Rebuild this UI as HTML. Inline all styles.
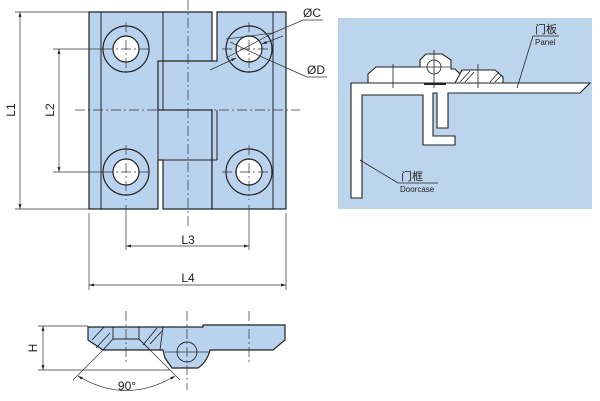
<!DOCTYPE html>
<html><head><meta charset="utf-8"><style>
html,body{margin:0;padding:0;background:#fff;}
svg{display:block;font-family:"Liberation Sans","Noto Sans CJK SC",sans-serif;}
</style></head><body>
<svg width="600" height="401" viewBox="0 0 600 401" xmlns="http://www.w3.org/2000/svg">
<defs>
<marker id="a" viewBox="0 0 10 10" refX="10" refY="5" markerWidth="7" markerHeight="7" orient="auto-start-reverse"><path d="M0,2 L10,5 L0,8 z" fill="#222"/></marker>
</defs>
<!-- Top view -->
<g stroke="#222" stroke-width="1.2" fill="#b9d3ee">
<path d="M89,12 H212 V209 H163 V160 H158 V209 H89 Z"/>
<path d="M217,12 H286 V209 H212 V110 H158 V61 H217 Z"/>
</g>
<g stroke="#222" stroke-width="1" fill="none">
<line x1="101" y1="12" x2="101" y2="209"/>
<line x1="273" y1="12" x2="273" y2="209"/>
<line x1="163" y1="12" x2="163" y2="110"/>
<line x1="158" y1="110" x2="158" y2="160"/>
<line x1="158" y1="160" x2="163" y2="160"/>
<line x1="217" y1="110" x2="217" y2="160"/>
<line x1="163" y1="160" x2="217" y2="160"/>
</g>
<g stroke="#222" stroke-width="1.2">
<circle cx="126" cy="49" r="23" fill="#b9d3ee"/><circle cx="126" cy="49" r="13" fill="#fff"/>
<circle cx="249" cy="49" r="23" fill="#b9d3ee"/><circle cx="249" cy="49" r="13" fill="#fff"/>
<circle cx="126" cy="172" r="23" fill="#b9d3ee"/><circle cx="126" cy="172" r="13" fill="#fff"/>
<circle cx="249" cy="172" r="23" fill="#b9d3ee"/><circle cx="249" cy="172" r="13" fill="#fff"/>
</g>
<g stroke="#333" stroke-width="0.7" stroke-dasharray="10,3,2,3" fill="none">
<line x1="188" y1="0" x2="188" y2="226"/>
<line x1="75" y1="110" x2="300" y2="110"/>
<line x1="126" y1="22" x2="126" y2="76"/><line x1="249" y1="22" x2="249" y2="76"/>
<line x1="103" y1="172" x2="152" y2="172"/><line x1="222" y1="172" x2="276" y2="172"/>
<line x1="126" y1="145" x2="126" y2="200"/><line x1="249" y1="145" x2="249" y2="200"/>
<line x1="103" y1="49" x2="152" y2="49"/><line x1="222" y1="49" x2="276" y2="49"/>
</g>
<g stroke="#333" stroke-width="0.7" fill="none">
<line x1="15" y1="12" x2="89" y2="12"/><line x1="15" y1="209" x2="89" y2="209"/>
<line x1="20" y1="12" x2="20" y2="209" marker-start="url(#a)" marker-end="url(#a)"/>
<line x1="53" y1="49" x2="103" y2="49"/><line x1="53" y1="172" x2="103" y2="172"/>
<line x1="59" y1="49" x2="59" y2="172" marker-start="url(#a)" marker-end="url(#a)"/>
<line x1="126" y1="205" x2="126" y2="250"/><line x1="249" y1="205" x2="249" y2="250"/>
<line x1="126" y1="246" x2="249" y2="246" marker-start="url(#a)" marker-end="url(#a)"/>
<line x1="89" y1="213" x2="89" y2="290"/><line x1="286" y1="213" x2="286" y2="290"/>
<line x1="89" y1="285" x2="286" y2="285" marker-start="url(#a)" marker-end="url(#a)"/>
<polyline points="323,20 303,20 273,33"/>
<line x1="226" y1="39" x2="273" y2="33"/>
<line x1="273" y1="33" x2="226" y2="58" />
<line x1="283" y1="36" x2="262" y2="44" marker-end="url(#a)"/>
<polyline points="327,77 307,77 262,57"/>
<line x1="230" y1="42" x2="262" y2="57"/>
<line x1="210" y1="70" x2="236" y2="58" marker-end="url(#a)"/>
</g>
<g font-size="12" fill="#222">
<text x="12" y="110" transform="rotate(-90 12 110)" text-anchor="middle" dominant-baseline="middle">L1</text>
<text x="51" y="110" transform="rotate(-90 51 110)" text-anchor="middle" dominant-baseline="middle">L2</text>
<text x="188" y="244" text-anchor="middle">L3</text>
<text x="188" y="282" text-anchor="middle">L4</text>
<text x="303" y="17">ØC</text>
<text x="307" y="74">ØD</text>
</g>
<!-- Installation view -->
<rect x="338" y="18" width="254" height="191" fill="#bcd5ec"/>
<g stroke="#222" stroke-width="1.1" fill="#fff">
<path d="M351,83 H590 L580,93 H448 V128 H437 V93 H433 V136 H455 V145 H423 V95 H362 V198 H351 Z"/>
<path d="M368,83 V74 L376,67 H420 V60 L426,54 H442 L451,60 V69 H455 L460,74 V83 Z"/>
<path d="M455,83 L462,70 H495 L503,77 V83 Z"/>
<line x1="436" y1="83" x2="437" y2="83"/>
</g>
<g stroke="#222" stroke-width="0.8" fill="none">
<circle cx="434" cy="67" r="7"/>
<line x1="434" y1="50" x2="434" y2="88"/><line x1="420" y1="67" x2="450" y2="67"/>
<line x1="393" y1="64" x2="393" y2="88"/><line x1="478" y1="64" x2="478" y2="88"/>
<line x1="460" y1="82" x2="470" y2="71"/><line x1="465" y1="82" x2="474" y2="72"/>
<line x1="490" y1="82" x2="499" y2="72"/><line x1="495" y1="82" x2="502" y2="75"/>
<line x1="424" y1="84" x2="446" y2="84" stroke-width="2"/>
<polyline points="559,36 533,36 517,88"/>
<polyline points="438,183 398,183 360,160"/>
</g>
<g fill="#222">
<text x="535" y="33" font-size="11">门板</text>
<text x="535" y="45" font-size="8">Panel</text>
<text x="401" y="180" font-size="11">门框</text>
<text x="400" y="192" font-size="8">Doorcase</text>
</g>
<!-- Side view -->
<path d="M88,327 H203 V325 H285 V340 L273,350 H210 Q207,362 198,368 H172 L165,358 L163,350 H103 L88,340 Z" fill="#b9d3ee" stroke="#222" stroke-width="1.2"/>
<g stroke="#222" stroke-width="0.9" fill="none">
<polyline points="113,327 113,339 139,339 139,327"/>
<line x1="113" y1="339" x2="103" y2="350"/><line x1="139" y1="339" x2="150" y2="350"/>
<line x1="92" y1="340" x2="104" y2="327"/><line x1="96" y1="348" x2="110" y2="333"/>
<line x1="143" y1="345" x2="157" y2="328"/><line x1="150" y1="344" x2="162" y2="331"/>
<line x1="163" y1="327" x2="160" y2="350"/>
<circle cx="187" cy="352" r="10"/>
</g>
<g stroke="#333" stroke-width="0.7" fill="none">
<line x1="126" y1="311" x2="126" y2="365" stroke-dasharray="10,3,2,3"/>
<line x1="187" y1="311" x2="187" y2="390" stroke-dasharray="10,3,2,3"/>
<line x1="249" y1="311" x2="249" y2="365" stroke-dasharray="10,3,2,3"/>
<line x1="165" y1="352" x2="210" y2="352"/>
<line x1="38" y1="326" x2="88" y2="326"/><line x1="38" y1="370" x2="170" y2="370"/>
<line x1="43" y1="326" x2="43" y2="370" marker-start="url(#a)" marker-end="url(#a)"/>
<line x1="103" y1="350" x2="73" y2="380"/><line x1="150" y1="350" x2="180" y2="380"/>
<path d="M78,376 Q126,405 175,376" marker-start="url(#a)" marker-end="url(#a)"/>
</g>
<text x="34" y="348" font-size="12" fill="#222" transform="rotate(-90 34 348)" text-anchor="middle" dominant-baseline="middle">H</text>
<text x="127" y="390" font-size="12" fill="#222" text-anchor="middle">90°</text>
</svg>
</body></html>
